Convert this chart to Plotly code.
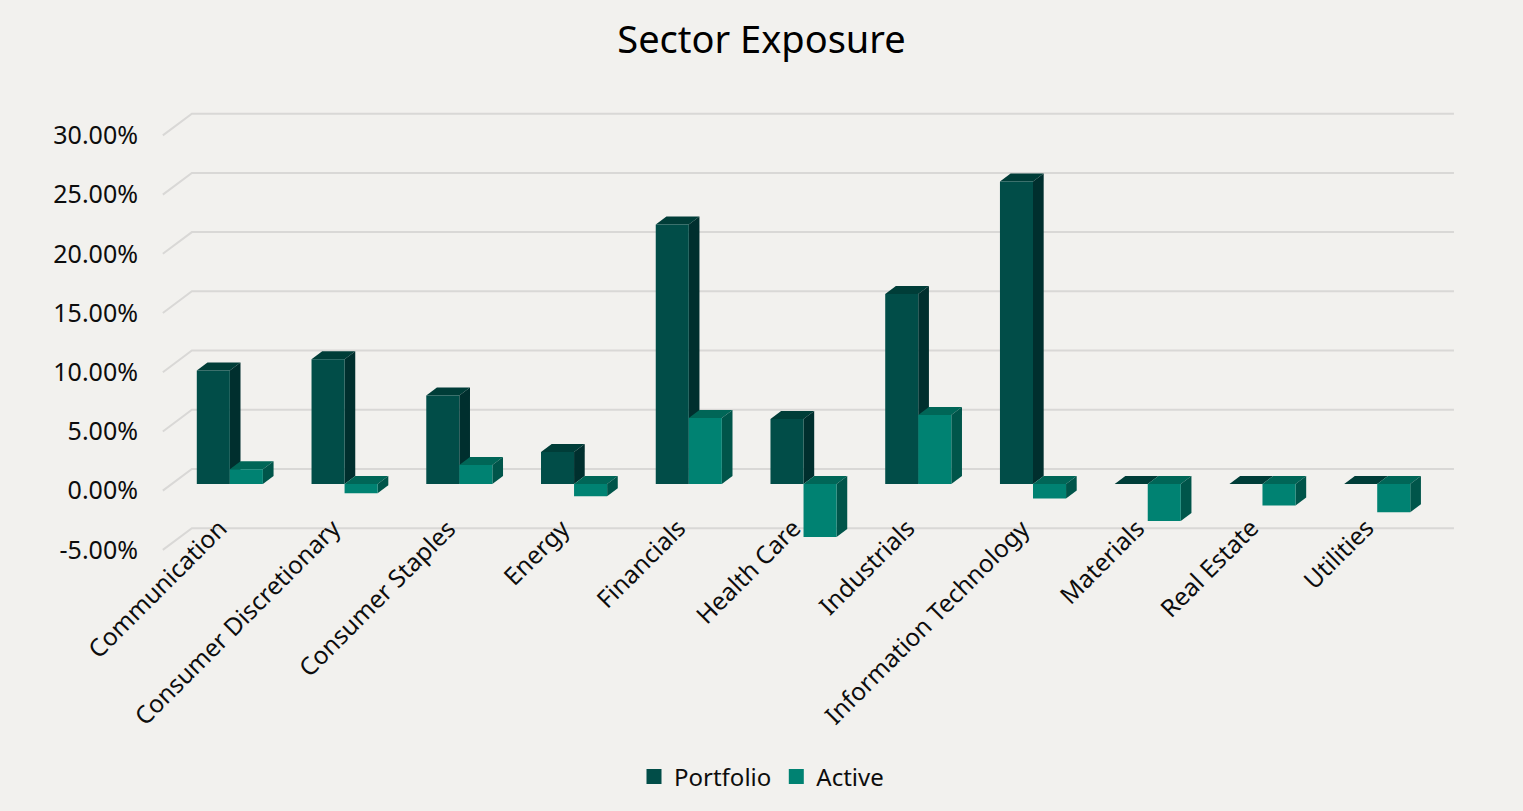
import plotly.graph_objects as go

# ---------------- data ----------------
categories = ["Communication", "Consumer Discretionary", "Consumer Staples", "Energy",
              "Financials", "Health Care", "Industrials", "Information Technology",
              "Materials", "Real Estate", "Utilities"]
portfolio = [9.57, 10.53, 7.46, 2.70, 21.90, 5.49, 16.05, 25.54, 0.0, 0.0, 0.0]
active = [1.24, -0.79, 1.60, -1.04, 5.57, -4.48, 5.83, -1.23, -3.13, -1.83, -2.39]
y_ticks = [-5, 0, 5, 10, 15, 20, 25, 30]
y_tick_labels = ["-5.00%", "0.00%", "5.00%", "10.00%", "15.00%", "20.00%", "25.00%", "30.00%"]
series_names = ["Portfolio", "Active"]

# ---------------- style ----------------
FONT = "Noto Sans"
BG = "#F2F1EE"
GRID = "#D9D8D6"
TXT = "#0D0D0D"
COL = {
    "Portfolio": {"front": "#014D48", "top": "#003D38", "side": "#002F2E"},
    "Active": {"front": "#008272", "top": "#006657", "side": "#00554A"},
}
BAR_W = 0.288          # bar width in category units
DEPTH_X, DEPTH_Y = 0.093, 0.676     # 3D depth offset of each bar
BACK_DX, BACK_DY = 0.169, 1.267     # back wall offset from bar plane
FRONT_DX, FRONT_DY = -0.084, -0.566  # front edge offset from bar plane

idx = list(range(len(categories)))
shapes = []


def path(pts):
    return "M " + " L ".join(f"{x},{y}" for x, y in pts) + " Z"


# gridlines: floor-to-wall diagonal + back wall line
x_left = idx[0] - 0.5
x_right = idx[-1] + 0.5
for v in y_ticks:
    shapes.append(dict(type="path", layer="below", xref="x", yref="y",
                       path=f"M {x_left + FRONT_DX},{v + FRONT_DY} L {x_left + BACK_DX},{v + BACK_DY} "
                            f"L {x_right + BACK_DX},{v + BACK_DY}",
                       line=dict(color=GRID, width=2)))

# 3D faces (top & side) computed from data values
for i in idx:
    for name, vals, off in (("Portfolio", portfolio, -BAR_W), ("Active", active, 0.0)):
        v = vals[i]
        x0 = i + off
        x1 = x0 + BAR_W
        top = max(v, 0.0)
        bot = min(v, 0.0)
        shapes.append(dict(type="path", layer="below", xref="x", yref="y",
                           path=path([(x0, top), (x0 + DEPTH_X, top + DEPTH_Y),
                                      (x1 + DEPTH_X, top + DEPTH_Y), (x1, top)]),
                           fillcolor=COL[name]["top"], line=dict(width=0)))
        shapes.append(dict(type="path", layer="below", xref="x", yref="y",
                           path=path([(x1, bot), (x1, top), (x1 + DEPTH_X, top + DEPTH_Y),
                                      (x1 + DEPTH_X, bot + DEPTH_Y)]),
                           fillcolor=COL[name]["side"], line=dict(width=0)))

fig = go.Figure()
fig.add_trace(go.Bar(x=idx, y=portfolio, width=BAR_W, offset=-BAR_W,
                     marker=dict(color=COL["Portfolio"]["front"], line=dict(width=0)),
                     showlegend=False, name="Portfolio"))
fig.add_trace(go.Bar(x=idx, y=active, width=BAR_W, offset=0,
                     marker=dict(color=COL["Active"]["front"], line=dict(width=0)),
                     showlegend=False, name="Active"))
for name in series_names:
    fig.add_trace(go.Scatter(x=[None], y=[None], mode="markers", name=name,
                             marker=dict(symbol="square", size=15, color=COL[name]["front"])))

annotations = []
for i, c in enumerate(categories):
    annotations.append(dict(x=i + 0.05, y=-2.1, xref="x", yref="y", text=c, showarrow=False,
                            textangle=-45, xanchor="right", yanchor="top",
                            font=dict(family=FONT, size=24.5, color=TXT)))

fig.update_layout(
    width=1523, height=811,
    margin=dict(l=161, r=54, t=105, b=256),
    paper_bgcolor=BG, plot_bgcolor=BG,
    title=dict(text="Sector Exposure", x=0.5, xref="container", xanchor="center",
               y=1 - 40 / 811, yref="container", yanchor="middle",
               font=dict(family=FONT, size=38, color="#000000")),
    xaxis=dict(range=[-0.6, 10.8], showgrid=False, zeroline=False, showline=False,
               showticklabels=False, ticks=""),
    yaxis=dict(range=[-6, 32], showgrid=False, zeroline=False, showline=False,
               tickvals=[v + FRONT_DY for v in y_ticks], ticktext=y_tick_labels,
               ticks="outside", ticklen=17, tickcolor="rgba(0,0,0,0)",
               tickfont=dict(family=FONT, size=25, color=TXT)),
    shapes=shapes,
    annotations=annotations,
    barmode="overlay",
    legend=dict(orientation="h", xref="container", yref="container", x=0.5, xanchor="center",
                y=1 - 777 / 811, yanchor="middle", font=dict(family=FONT, size=24, color=TXT),
                bgcolor="rgba(0,0,0,0)"),
    showlegend=True,
    hovermode=False,
)

fig.write_html("out.html", config={"displayModeBar": False, "staticPlot": True},
               post_script="document.body.style.margin='0';document.body.style.overflow='hidden';")
